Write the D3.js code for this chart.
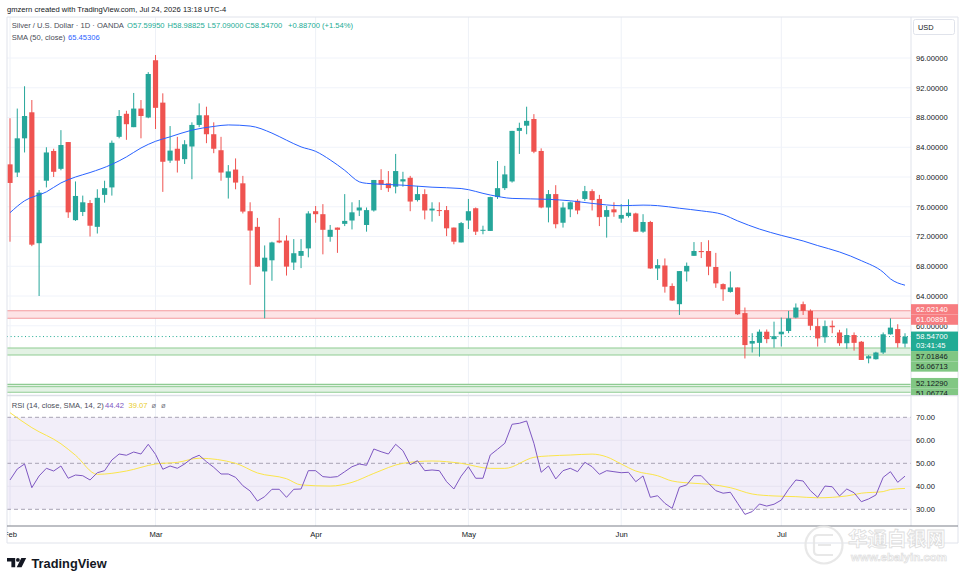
<!DOCTYPE html>
<html><head><meta charset="utf-8">
<script src="https://cdn.jsdelivr.net/npm/d3@7"></script>
<style>
html,body{margin:0;padding:0;background:#fff;}
svg{display:block;}
</style></head><body>
<svg id="c" width="964" height="582"></svg>
<script>
// ---------------- DATA ----------------
const opens  = [81.7,80.6,85.2,88.7,71.1,79.5,83.5,81.1,84.7,74.2,75.3,76.5,73.3,77.6,78.6,85.4,88.5,86.7,89.2,88.0,
 95.7,90.0,82.2,83.8,82.4,84.1,87.0,88.3,85.75,83.6,79.9,81.0,79.15,75.4,73.3,67.3,68.8,71.45,71.45,68.5,
 69.4,70.4,75.4,75.0,71.95,73.2,73.7,74.15,75.5,73.55,75.5,79.6,79.15,78.7,79.4,79.9,76.9,77.7,75.5,75.55,
 75.55,73.2,71.2,74.15,75.8,72.8,72.75,77.3,78.5,79.4,86.2,86.9,87.8,83.5,75.9,77.7,73.85,75.65,76.8,77.05,
 78.1,77.05,74.65,75.65,74.4,74.75,75.1,72.65,73.95,67.7,68.1,65.35,62.9,67.3,69.4,70.05,70.05,67.9,65.6,64.55,
 65.15,61.7,57.6,57.7,59.2,58.2,58.85,59.3,61.1,62.9,62.0,59.95,58.45,60.0,59.1,57.65,58.75,57.85,55.6,55.5,
 56.4,58.85,59.55,57.5995];
const highs  = [87.9,89.2,92.2,90.35,78.25,84.0,83.8,86.3,84.7,79.4,77.5,76.9,78.35,79.5,84.9,89.0,88.9,91.3,90.35,94.1,
 96.4,91.25,86.85,85.4,84.95,87.35,89.9,89.45,87.35,85.4,81.6,82.5,80.15,76.6,74.5,70.8,71.3,74.5,72.15,71.65,
 71.65,75.4,76.1,76.35,73.55,73.2,77.7,76.6,76.9,75.9,79.6,81.05,80.8,83.1,80.7,80.15,78.8,78.35,76.6,76.6,
 76.1,73.2,73.95,77.05,75.9,73.45,77.35,82.15,81.5,86.2,87.3,89.45,88.45,83.85,78.25,78.9,76.6,76.7,77.0,78.8,
 78.35,77.6,76.1,76.6,76.35,77.0,75.2,75.0,74.1,68.95,69.05,65.7,67.35,68.5,71.25,71.25,71.5,69.8,65.7,67.3,
 65.15,62.45,59.0,59.5,59.5,60.55,61.1,62.0,63.0,63.25,62.2,61.0,60.7,60.7,59.45,59.65,59.1,57.95,56.05,56.5,
 59.1,61.0,60.2,58.98825];
const lows   = [71.3,80.0,83.3,70.7,64.0,78.6,80.0,80.9,74.5,74.1,74.75,72.0,72.4,76.55,77.5,85.2,85.0,86.7,85.2,87.9,
 86.45,78.0,81.9,80.6,81.75,79.7,86.7,84.55,83.2,79.5,77.1,78.35,75.1,65.5,67.9,61.0,66.05,71.1,66.75,67.5,
 67.75,69.2,73.85,69.6,71.3,69.8,73.4,72.95,74.75,72.65,75.35,78.25,78.0,77.8,78.7,75.4,76.7,74.3,74.0,74.75,
 72.05,70.95,71.2,73.0,72.2,72.3,72.75,77.05,78.25,79.25,83.1,85.75,83.2,75.8,73.9,73.1,73.2,74.6,75.0,76.8,
 75.5,73.4,71.85,74.65,73.85,74.55,72.6,72.5,67.65,66.15,64.45,63.35,61.45,65.95,69.4,69.1,66.8,65.1,63.35,64.45,
 61.45,55.6,56.4,55.85,57.65,57.05,57.2,59.0,61.0,61.45,59.4,57.2,57.7,59.0,57.3,56.9,56.65,55.4,54.95,55.45,
 56.2,58.8,57.05,57.09];
const closes = [79.2,85.2,88.2,70.9,77.9,83.3,80.7,84.3,75.25,77.45,76.6,73.45,77.2,78.5,84.6,88.2,87.1,89.2,88.2,93.85,
 89.3,82.05,83.55,82.2,84.4,87.0,88.3,85.75,83.8,80.6,80.75,79.25,75.35,72.8,67.95,69.15,71.2,71.2,67.95,69.75,
 70.05,75.1,75.0,72.9,72.9,72.9,74.1,75.25,75.9,75.55,79.6,79.0,78.5,80.8,79.7,76.7,77.7,75.5,75.75,75.45,
 73.1,71.3,73.8,75.4,72.65,72.9,77.3,78.5,80.35,86.2,86.6,87.55,83.4,75.9,77.7,73.65,75.9,76.6,75.5,78.1,
 76.9,74.6,75.55,75.25,74.9,75.2,72.65,73.95,67.7,68.15,65.25,63.4,67.35,68.05,70.05,69.9,67.95,65.7,64.9,65.15,
 61.55,57.4,57.95,59.2,58.2,58.6,59.2,61.0,62.45,62.0,60.0,58.3,59.95,59.8,57.65,58.75,57.7,55.4,55.9,56.4,
 58.85,59.75,57.66,58.547];

// SMA(50) at these candle indices
const smaIdx = [0,2,5,7,9,11,14,16,18,20,22,25,28,30,33,36,38,40,42,44,46,48,49,51,54,58,62,66,69,74,77,80,84,87,89,92,95,98,100,103,106,109,111,114,117,120,121,123];
const smaVal = [75.2,76.8,78.0,79.2,80.0,80.6,81.7,82.7,83.9,84.8,85.4,86.3,86.8,87.0,86.85,85.9,84.95,84.05,83.45,82.3,80.9,79.35,79.15,79.03,78.9,78.63,78.45,77.58,77.12,77.0,76.8,76.45,76.14,76.22,76.15,75.8,75.45,74.95,74.1,73.0,72.15,71.4,70.78,69.92,68.75,67.2,66.3,65.45306];

// RSI(14), one value per candle
const rsiVals = [42.74,47.52,49.7,39.4,44.5,47.83,46.65,48.83,43.5,44.9,44.6,42.74,45.9,46.8,51.43,54.04,53.5,54.9,54.04,58.26,
 53.9,47.4,48.83,47.83,49.7,52.17,53.5,50.7,48.26,45.35,45.35,43.9,40.26,37.96,33.6,35.5,38.7,38.7,35.2,38.7,
 38.83,46.8,46.8,44.2,43.9,44.2,46.35,48.52,49.7,49.13,56.22,55.04,54.04,58.26,55.48,49.4,51.13,46.8,47.1,46.8,
 42.0,38.83,44.4,48.52,43.5,43.5,53.6,56.1,58.7,66.96,67.4,68.4,58.7,46.1,48.83,43.2,46.8,47.83,46.35,50.43,
 48.52,45.22,46.8,46.35,45.91,46.09,42.0,44.5,35.2,35.9,32.6,30.4,39.6,40.6,44.6,44.6,41.3,38.1,37.0,37.4,
 32.6,27.8,29.0,32.3,31.4,32.2,34.0,38.7,42.74,42.3,38.1,35.2,40.1,39.8,35.8,38.83,37.2,33.3,34.5,36.2,
 43.9,46.35,41.74,44.42];
// RSI smoothing line (SMA 14) read at these indices
const rsiSmaIdx = [0,3,7,9,12,16,20,23,26,31,34,38,40,44,47,50,54,58,62,66,68,72,74,77,80,82,84,86,89,91,94,96,99,102,105,108,111,115,117,120,121,123];
const rsiSmaVal = [72.0,65.5,58.5,53.5,45.2,46.65,49.7,50.4,52.2,50.0,45.8,43.3,40.6,40.1,41.7,45.6,50.0,51.0,50.0,47.8,47.8,52.6,53.2,53.6,54.0,52.8,49.7,46.65,44.6,42.3,41.3,40.9,39.4,36.65,35.8,35.5,35.0,35.8,37.0,37.7,38.6,39.07];

const monthLabels = ["Feb","Mar","Apr","May","Jun","Jul"];
const monthIdx    = [0,20,42,63,84,106];
const priceTicks  = [60,64,68,72,76,80,84,88,92,96];
const rsiTicks    = [30,40,50,60,70];
const rsiLevels   = [70,50,30];
const zoneRed     = [62.02140,61.00891];
const zoneGreen1  = [57.01846,56.06713];
const zoneGreen2  = [52.12290,51.06774];
const zoneGreen2Inner = [51.81];
const lastPrice   = 58.54700;
const countdown   = "03:41:45";
const rsiLast = 44.42, rsiSmaLast = 39.07;

// ---------------- LAYOUT ----------------
const FONT = "'Liberation Sans', Arial, sans-serif";
const UP = "#26a69a", DN = "#ef5350";
const PL=7, PR=911, FR=958, MT=17, MB=395, RT=396, RB=526, FB=543;
const svg = d3.select("#c").attr("font-family", FONT);
const x  = d3.scaleLinear().domain([0,123]).range([10,905]);
const y  = d3.scaleLinear().domain([64,96]).range([296,58]);
const yr = d3.scaleLinear().domain([30,70]).range([509.3,417.3]);

const defs = svg.append("defs");
function clip(id,x0,y0,w,h){defs.append("clipPath").attr("id",id).append("rect").attr("x",x0).attr("y",y0).attr("width",w).attr("height",h);}
clip("cm",PL,MT,PR-PL,MB-MT);
clip("cr",PL,RT,PR-PL,RB-RT);
clip("ct",PL,RB,PR-PL,FB-RB);
clip("ca",PR,MT,FR-PR,MB-MT);

svg.append("rect").attr("width",964).attr("height",582).attr("fill","#fff");

// vertical month grid
svg.append("g").selectAll("line").data(monthIdx).join("line")
  .attr("x1",d=>x(d)).attr("x2",d=>x(d)).attr("y1",MT).attr("y2",RB)
  .attr("stroke","#eef1f7").attr("stroke-width",1);

// ---- main pane ----
const gM = svg.append("g").attr("clip-path","url(#cm)");
gM.selectAll("line.hg").data(priceTicks).join("line").attr("class","hg")
  .attr("x1",PL).attr("x2",PR).attr("y1",d=>y(d)).attr("y2",d=>y(d))
  .attr("stroke","#f0f3fa");

function zone(vals, fill, stroke){
  gM.append("rect").attr("x",PL).attr("width",PR-PL)
    .attr("y",y(vals[0])).attr("height",y(vals[1])-y(vals[0])).attr("fill",fill);
  gM.selectAll(null).data(vals).join("line")
    .attr("x1",PL).attr("x2",PR).attr("y1",d=>y(d)).attr("y2",d=>y(d))
    .attr("stroke",stroke).attr("stroke-width",1.1);
}
zone(zoneRed,"#fde4e6","#f49a9e");
zone(zoneGreen1,"#e3f2e4","#8fcb92");
zone(zoneGreen2,"#e3f2e4","#8fcb92");
gM.selectAll(null).data(zoneGreen2Inner).join("line")
  .attr("x1",PL).attr("x2",PR).attr("y1",d=>y(d)).attr("y2",d=>y(d))
  .attr("stroke","#8fcb92").attr("stroke-width",1);

// current price dotted line
gM.append("line").attr("x1",PL).attr("x2",PR).attr("y1",y(lastPrice)).attr("y2",y(lastPrice))
  .attr("stroke","#22ab94").attr("stroke-dasharray","1,2.6").attr("stroke-width",1);

// candles
const idx = d3.range(opens.length);
const col = i => closes[i] >= opens[i] ? UP : DN;
gM.append("g").selectAll("line").data(idx).join("line")
  .attr("x1",i=>x(i)).attr("x2",i=>x(i)).attr("y1",i=>y(highs[i])).attr("y2",i=>y(lows[i]))
  .attr("stroke",col).attr("stroke-width",1);
const BW = 5.2;
gM.append("g").selectAll("rect").data(idx).join("rect")
  .attr("x",i=>x(i)-BW/2).attr("width",BW)
  .attr("y",i=>y(Math.max(opens[i],closes[i])))
  .attr("height",i=>Math.max(1,Math.abs(y(opens[i])-y(closes[i]))))
  .attr("fill",col);

// SMA 50
const smaPts = smaIdx.map((d,k)=>[d,smaVal[k]]);
gM.append("path").datum(smaPts)
  .attr("d",d3.line().x(d=>x(d[0])).y(d=>y(d[1])).curve(d3.curveMonotoneX))
  .attr("fill","none").attr("stroke","#2962ff").attr("stroke-width",1);

// ---- RSI pane ----
const gR = svg.append("g").attr("clip-path","url(#cr)");
gR.append("rect").attr("x",PL).attr("width",PR-PL).attr("y",yr(70)).attr("height",yr(30)-yr(70))
  .attr("fill","rgba(126,87,194,0.1)");
gR.selectAll("line.rg").data(rsiTicks.filter(t=>!rsiLevels.includes(t))).join("line").attr("class","rg")
  .attr("x1",PL).attr("x2",PR).attr("y1",d=>yr(d)).attr("y2",d=>yr(d)).attr("stroke","#e7e3f1");
gR.selectAll("line.rl").data(rsiLevels).join("line").attr("class","rl")
  .attr("x1",PL).attr("x2",PR).attr("y1",d=>yr(d)).attr("y2",d=>yr(d))
  .attr("stroke","#a8a3b4").attr("stroke-dasharray","4,3").attr("stroke-width",1);
gR.append("path").datum(rsiSmaIdx.map((d,k)=>[d,rsiSmaVal[k]]))
  .attr("d",d3.line().x(d=>x(d[0])).y(d=>yr(d[1])).curve(d3.curveMonotoneX))
  .attr("fill","none").attr("stroke","#fbe54a").attr("stroke-width",1);
gR.append("path").datum(rsiVals.map((v,i)=>[i,v]))
  .attr("d",d3.line().x(d=>x(d[0])).y(d=>yr(d[1])))
  .attr("fill","none").attr("stroke","#7e57c2").attr("stroke-width",1);

// ---- frame / separators ----
const fr = svg.append("g").attr("fill","none");
fr.append("line").attr("x1",PL).attr("x2",FR).attr("y1",MT).attr("y2",MT).attr("stroke","#e0e3eb");
fr.append("line").attr("x1",PL).attr("x2",PL).attr("y1",MT).attr("y2",FB).attr("stroke","#e0e3eb");
fr.append("line").attr("x1",FR).attr("x2",FR).attr("y1",MT).attr("y2",FB).attr("stroke","#e0e3eb");
fr.append("line").attr("x1",PL).attr("x2",FR).attr("y1",FB).attr("y2",FB).attr("stroke","#e0e3eb");
fr.append("line").attr("x1",PR).attr("x2",PR).attr("y1",MT).attr("y2",RB).attr("stroke","#e0e3eb");
fr.append("line").attr("x1",PL).attr("x2",FR).attr("y1",MB+0.5).attr("y2",MB+0.5).attr("stroke","#dcdfe6").attr("stroke-width",1.5);
fr.append("line").attr("x1",PL).attr("x2",FR).attr("y1",RB).attr("y2",RB).attr("stroke","#7d808a").attr("stroke-width",1.2);

// ---- axes ----
function styleAxis(g){
  g.select(".domain").remove();
  g.attr("font-family",FONT).attr("font-size",7.6);
  g.selectAll("text").attr("fill","#131722");
}
svg.append("g").attr("clip-path","url(#ca)").append("g").attr("transform",`translate(${PR},0)`)
  .call(d3.axisRight(y).tickValues(priceTicks).tickFormat(d=>d.toFixed(5)).tickSize(0).tickPadding(5))
  .call(styleAxis);
svg.append("g").attr("transform",`translate(${PR},0)`)
  .call(d3.axisRight(yr).tickValues(rsiTicks).tickFormat(d=>d.toFixed(2)).tickSize(0).tickPadding(5))
  .call(styleAxis);
svg.append("g").attr("clip-path","url(#ct)").append("g").attr("transform",`translate(0,${RB})`)
  .call(d3.axisBottom(x).tickValues(monthIdx).tickFormat((d,k)=>monthLabels[k]).tickSize(0).tickPadding(6))
  .call(styleAxis);

// USD box
svg.append("rect").attr("x",913.5).attr("y",19.5).attr("width",41).attr("height",15).attr("rx",2)
  .attr("fill","#fff").attr("stroke","#e0e3eb");
svg.append("text").attr("x",918).attr("y",30).attr("font-size",7.4).attr("fill","#131722").text("USD");

// ---- price tags on the axis ----
const fmt = v => v.toFixed(5);
const tags = [
  {v:zoneRed[0], t:[fmt(zoneRed[0])], bg:"#f77c80", fg:"#fff"},
  {v:zoneRed[1], t:[fmt(zoneRed[1])], bg:"#f77c80", fg:"#fff"},
  {v:lastPrice, t:[fmt(lastPrice),countdown], bg:"#22ab94", fg:"#fff", fixed:true},
  {v:zoneGreen1[0], t:[fmt(zoneGreen1[0])], bg:"#81c784", fg:"#131722"},
  {v:zoneGreen1[1], t:[fmt(zoneGreen1[1])], bg:"#81c784", fg:"#131722"},
  {v:zoneGreen2[0], t:[fmt(zoneGreen2[0])], bg:"#81c784", fg:"#131722"},
  {v:zoneGreen2[1], t:[fmt(zoneGreen2[1])], bg:"#81c784", fg:"#131722"}
];
const LH = 10.3;
tags.forEach(t=>{ t.h = t.t.length===1 ? LH : 19.5; t.want = t.fixed ? y(t.v)-5 : y(t.v)-LH/2; t.top = t.want; });
tags.sort((a,b)=>a.want-b.want);
let clusters=[], cur=null, prevBottom=-1e9;
tags.forEach(t=>{
  if (t.want < prevBottom) { t.top = prevBottom; cur.push(t); }
  else { cur=[t]; clusters.push(cur); t.top=t.want; }
  prevBottom = t.top + t.h;
});
clusters.forEach(c=>{
  if (c.some(t=>t.fixed)) return;
  const s = d3.mean(c, t=>t.top - t.want);
  c.forEach(t=>t.top -= s);
});
const tagG = svg.append("g").attr("clip-path","url(#ca)");
tags.forEach(t=>{
  tagG.append("rect").attr("x",PR).attr("y",t.top).attr("width",FR-PR).attr("height",t.h).attr("fill",t.bg);
  t.t.forEach((s,k)=>{
    tagG.append("text").attr("x",916).attr("y",t.top+ (t.t.length===1? t.h/2 : 5 + k*8.6)).attr("dy","0.34em")
      .attr("font-size",7.6).attr("fill",t.fg).text(s);
  });
});

// ---- legends ----
const n = closes.length-1;
const chg = closes[n]-closes[n-1];
const lg = svg.append("g").attr("font-size",7.6);
lg.append("text").attr("x",7).attr("y",11.8).attr("fill","#131722")
  .text("gmzern created with TradingView.com, Jul 24, 2026 13:18 UTC-4");
const l1 = lg.append("text").attr("y",28.4);
l1.append("tspan").attr("x",11.7).attr("fill","#4a4d57").text("Silver / U.S. Dollar · 1D · OANDA");
const ohlc = [["O",opens[n],127],["H",highs[n],167.5],["L",lows[n],207.5],["C",closes[n],245]];
ohlc.forEach(([k,v,px])=>{
  l1.append("tspan").attr("x",px).attr("fill","#22ab94").text(k+fmt(v));
});
l1.append("tspan").attr("x",288).attr("fill","#22ab94")
  .text((chg>=0?"+":"")+fmt(chg)+" ("+(chg>=0?"+":"")+(chg/closes[n-1]*100).toFixed(2)+"%)");
const l2 = lg.append("text").attr("y",40);
l2.append("tspan").attr("x",11.7).attr("fill","#4a4d57").text("SMA (50, close)");
l2.append("tspan").attr("x",68).attr("fill","#2962ff").text(fmt(smaVal[smaVal.length-1]));
const l3 = lg.append("text").attr("y",407.7);
l3.append("tspan").attr("x",11.7).attr("fill","#4a4d57").text("RSI (14, close, SMA, 14, 2)");
l3.append("tspan").attr("x",105).attr("fill","#7e57c2").text(rsiLast.toFixed(2));
l3.append("tspan").attr("x",128.5).attr("fill","#e8cc2a").text(rsiSmaLast.toFixed(2));
l3.append("tspan").attr("x",151.5).attr("fill","#787b86").text("ø");
l3.append("tspan").attr("x",161).attr("fill","#787b86").text("ø");

// ---- TradingView logo ----
const logo = svg.append("g").attr("fill","#131722");
logo.append("path").attr("d","M7,558 H15.2 V567.3 H11.4 V561.6 H7 Z");
logo.append("circle").attr("cx",17.9).attr("cy",559.9).attr("r",1.9);
logo.append("path").attr("d","M21.3,558 H26.2 L21.6,567.3 H16.7 Z");
svg.append("text").attr("x",31.5).attr("y",567.6).attr("font-size",12.8).attr("font-weight","bold")
  .attr("fill","#131722").text("TradingView");

// ---- watermark ----
const wm = svg.append("g").attr("opacity",0.9);
wm.append("circle").attr("cx",824).attr("cy",545).attr("r",18.5).attr("fill","none").attr("stroke","#e6e6e6").attr("stroke-width",2.2);
wm.append("path").attr("d","M833,535 H818 Q814,535 814,539 V551 Q814,555 818,555 H833 M818,545 H831")
  .attr("fill","none").attr("stroke","#e6e6e6").attr("stroke-width",2.2);
wm.append("text").attr("x",848).attr("y",546).attr("font-family","'Noto Sans CJK SC'").attr("font-size",19.5)
  .attr("font-weight","bold").attr("fill","#fff").attr("stroke","#dadada").attr("stroke-width",0.8).text("华通白银网");
wm.append("text").attr("x",851).attr("y",561).attr("font-size",11.5).attr("font-weight","bold")
  .attr("fill","#fff").attr("stroke","#dadada").attr("stroke-width",0.7).text("www.ebaiyin.com");
</script>
</body></html>
